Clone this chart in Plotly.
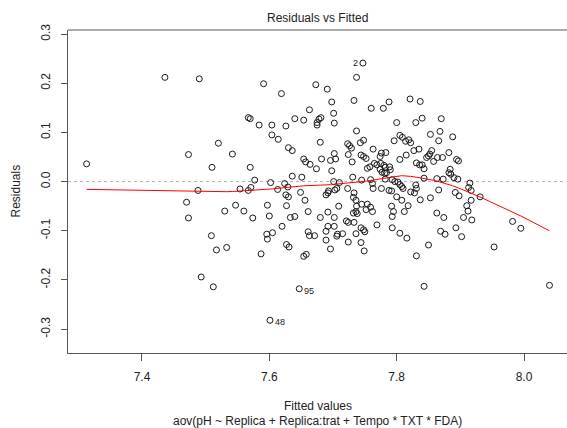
import numpy as np
import plotly.graph_objects as go

# ---- data ----
fitted = [
    7.747, 7.601, 7.647,
    7.313, 7.436, 7.473, 7.470, 7.473, 7.488, 7.490, 7.493, 7.512, 7.509,
    7.510, 7.520, 7.517, 7.533, 7.542, 7.530, 7.547, 7.560, 7.554, 7.567,
    7.570, 7.570, 7.567, 7.571, 7.574, 7.577, 7.584, 7.587, 7.591, 7.596,
    7.597, 7.605, 7.597, 7.600, 7.602, 7.604, 7.604, 7.614, 7.613, 7.619,
    7.620, 7.624, 7.626, 7.626, 7.630, 7.627, 7.627, 7.631, 7.630, 7.636,
    7.629, 7.636, 7.633, 7.640, 7.640,
    7.737, 7.673, 7.691, 7.698, 7.733, 7.760, 7.779, 7.788, 7.663, 7.701,
    7.654, 7.675, 7.678, 7.681, 7.675, 7.702, 7.737, 7.680, 7.723, 7.726,
    7.743, 7.748, 7.729, 7.763, 7.702, 7.704, 7.696, 7.682, 7.654, 7.657,
    7.664, 7.674, 7.698, 7.724, 7.730, 7.744, 7.748, 7.752, 7.765, 7.769,
    7.775, 7.780, 7.782, 7.774, 7.777, 7.781, 7.784, 7.789, 7.754, 7.758,
    7.776, 7.783, 7.774, 7.651, 7.731, 7.745, 7.701, 7.710, 7.703, 7.693,
    7.689, 7.692, 7.706, 7.723, 7.759, 7.762, 7.763, 7.733, 7.732, 7.736,
    7.776, 7.788, 7.782, 7.745, 7.752, 7.762, 7.759, 7.754, 7.737, 7.736,
    7.732, 7.738, 7.709, 7.661, 7.680, 7.692, 7.702, 7.721, 7.724, 7.733,
    7.692, 7.702, 7.689, 7.744, 7.748, 7.750, 7.769, 7.661, 7.663, 7.671,
    7.707, 7.715, 7.706, 7.736, 7.793, 7.724, 7.744, 7.689, 7.696, 7.749,
    7.654, 7.658, 7.649, 7.656,
    7.821, 7.837, 7.800, 7.830, 7.840, 7.870, 7.853, 7.868, 7.888, 7.796,
    7.805, 7.809, 7.814, 7.819, 7.822, 7.866, 7.827, 7.835, 7.855, 7.852,
    7.850, 7.847, 7.882, 7.805, 7.815, 7.858, 7.864, 7.872, 7.831, 7.836,
    7.840, 7.843, 7.894, 7.897, 7.790, 7.884, 7.882, 7.885, 7.843, 7.863,
    7.873, 7.896, 7.890, 7.915, 7.913, 7.917, 7.931, 7.793, 7.797, 7.802,
    7.808, 7.810, 7.805, 7.822, 7.828, 7.831, 7.830, 7.792, 7.866, 7.892,
    7.898, 7.837, 7.853, 7.800, 7.808, 7.818, 7.910, 7.917, 7.792, 7.795,
    7.812, 7.863, 7.874, 7.905, 7.912, 7.918, 7.805, 7.816, 7.893, 7.869,
    7.876, 7.902, 7.850, 7.831, 7.953, 7.843, 7.982, 7.995, 8.040, 7.793,
]
residuals = [
    0.241, -0.282, -0.218,
    0.036, 0.212, 0.055, -0.042, -0.074, -0.018, 0.209, -0.194, -0.214, -0.110,
    0.029, 0.078, -0.139, -0.134, 0.056, -0.060, -0.048, -0.060, -0.015, 0.130,
    0.128, 0.029, -0.018, -0.012, -0.074, 0.003, 0.115, -0.147, 0.199, -0.107,
    -0.117, -0.104, -0.048, -0.070, -0.002, 0.115, 0.095, 0.086, -0.016, 0.179,
    -0.091, -0.004, 0.113, -0.027, -0.031, -0.049, -0.128, -0.133, 0.069, 0.063,
    -0.011, 0.011, -0.073, -0.071, 0.128,
    0.212, 0.197, 0.188, 0.162, 0.165, 0.149, 0.149, 0.162, 0.146, 0.139,
    0.125, 0.120, 0.127, 0.130, 0.115, 0.119, 0.103, 0.080, 0.077, 0.073,
    0.079, 0.084, 0.068, 0.066, 0.057, 0.046, 0.043, 0.046, 0.046, 0.040,
    0.035, 0.026, 0.022, 0.055, 0.040, 0.054, 0.051, 0.047, 0.037, 0.034,
    0.037, 0.033, 0.029, 0.025, 0.019, 0.017, 0.018, 0.030, 0.027, 0.030,
    0.058, 0.059, 0.051, 0.009, 0.009, 0.003, 0.000, -0.002, -0.017, -0.019,
    -0.027, -0.023, -0.014, -0.014, 0.004, -0.004, -0.014, -0.023, -0.032, -0.038,
    -0.014, -0.018, 0.005, -0.046, -0.057, -0.061, -0.052, -0.046, -0.050, -0.061,
    -0.064, -0.065, -0.050, -0.061, -0.073, -0.062, -0.073, -0.080, -0.083, -0.083,
    -0.091, -0.091, -0.101, -0.094, -0.098, -0.102, -0.088, -0.102, -0.110, -0.110,
    -0.107, -0.106, -0.111, -0.106, -0.094, -0.123, -0.124, -0.119, -0.137, -0.141,
    -0.152, -0.148, -0.022, -0.038,
    0.168, 0.163, 0.120, 0.120, 0.129, 0.128, 0.096, 0.102, 0.091, 0.083,
    0.094, 0.090, 0.082, 0.085, 0.079, 0.083, 0.063, 0.066, 0.063, 0.056,
    0.052, 0.049, 0.059, 0.045, 0.054, 0.041, 0.049, 0.049, 0.038, 0.034,
    0.034, 0.026, 0.045, 0.042, 0.024, 0.025, 0.018, 0.015, 0.007, 0.006,
    0.005, 0.005, 0.008, -0.003, -0.012, -0.018, -0.031, 0.004, 0.000, -0.001,
    -0.010, -0.014, -0.006, -0.021, -0.023, -0.014, -0.007, -0.019, -0.017, -0.022,
    -0.029, -0.037, -0.033, -0.031, -0.038, -0.049, -0.049, -0.038, -0.050, -0.061,
    -0.061, -0.064, -0.073, -0.073, -0.060, -0.078, -0.105, -0.115, -0.094, -0.101,
    -0.107, -0.112, -0.129, -0.151, -0.133, -0.213, -0.081, -0.095, -0.211, -0.071,
]
# labelled observations: (label, index into the arrays above, side)
point_labels = ["2", "48", "95"]
point_label_idx = [0, 1, 2]
point_label_side = ["left", "right", "right"]

x_tick_vals = [7.4, 7.6, 7.8, 8.0]
x_tick_text = ["7.4", "7.6", "7.8", "8.0"]
y_tick_vals = [-0.3, -0.2, -0.1, 0.0, 0.1, 0.2, 0.3]
y_tick_text = ["-0.3", "-0.2", "-0.1", "0.0", "0.1", "0.2", "0.3"]

title_text = "Residuals vs Fitted"
x_title = "Fitted values"
sub_title = "aov(pH ~ Replica + Replica:trat + Tempo * TXT * FDA)"
y_title = "Residuals"


def lowess(x, y, f=2.0 / 3.0, it=3):
    x = np.asarray(x, float)
    y = np.asarray(y, float)
    o = np.argsort(x, kind="stable")
    xs, ys = x[o], y[o]
    n = len(xs)
    ns = max(min(int(f * n + 1e-7), n), 2)
    rw = np.ones(n)
    fit = np.zeros(n)
    rng = xs[-1] - xs[0]
    for itr in range(it + 1):
        for i in range(n):
            dist = np.abs(xs - xs[i])
            h = np.sort(dist)[ns - 1]
            h9, h1 = 0.999 * h, 0.001 * h
            w = np.where(dist <= h1, 1.0,
                         np.where(dist <= h9, (1 - (dist / h) ** 3) ** 3, 0.0)) * rw
            w = w / w.sum()
            if h > 0:
                a = np.sum(w * xs)
                b = xs[i] - a
                c = np.sum(w * (xs - a) ** 2)
                if np.sqrt(c) > 0.001 * rng:
                    b = b / c
                    w = w * (b * (xs - a) + 1)
            fit[i] = np.sum(w * ys)
        if itr == it:
            break
        res = np.abs(ys - fit)
        cmad = 6 * np.median(res)
        if cmad == 0:
            break
        r = res / cmad
        rw = np.where(r <= 0.001, 1.0, np.where(r <= 0.999, (1 - r ** 2) ** 2, 0.0))
    return xs, fit


sx, sy = lowess(fitted, residuals)

fig = go.Figure()
fig.add_trace(go.Scatter(
    x=fitted, y=residuals, mode="markers",
    marker=dict(symbol="circle-open", size=6, color="#1a1a1a", line=dict(width=1, color="#1a1a1a")),
    hoverinfo="skip", showlegend=False,
))
fig.add_trace(go.Scatter(
    x=sx, y=sy, mode="lines", line=dict(color="red", width=1),
    hoverinfo="skip", showlegend=False,
))

FONT = "Liberation Sans, Arial, sans-serif"
TXT = "#222222"
AX = "#555555"

annotations = []
for lab, idx, side in zip(point_labels, point_label_idx, point_label_side):
    annotations.append(dict(
        x=fitted[idx], y=residuals[idx], xref="x", yref="y", text=lab, showarrow=False,
        xanchor="right" if side == "left" else "left",
        xshift=-3 if side == "left" else 3, yshift=0 if side == "left" else -2,
        font=dict(family=FONT, size=9, color=TXT),
    ))
annotations += [
    dict(x=0.5, y=1, xref="paper", yref="paper", yshift=12, text=title_text, showarrow=False,
         xanchor="center", yanchor="middle", font=dict(family=FONT, size=12, color=TXT)),
    dict(x=0.5, y=0, xref="paper", yref="paper", yshift=-53, text=x_title, showarrow=False,
         xanchor="center", yanchor="middle", font=dict(family=FONT, size=12, color=TXT)),
    dict(x=0.5, y=0, xref="paper", yref="paper", yshift=-68, text=sub_title, showarrow=False,
         xanchor="center", yanchor="middle", font=dict(family=FONT, size=12, color=TXT)),
    dict(x=0, y=0.5, xref="paper", yref="paper", xshift=-53, text=y_title, showarrow=False,
         textangle=-90, xanchor="center", yanchor="middle", font=dict(family=FONT, size=12, color=TXT)),
]

fig.update_layout(
    width=567, height=428,
    margin=dict(l=68, r=0, t=30, b=75, pad=0),
    paper_bgcolor="white", plot_bgcolor="white",
    showlegend=False,
    annotations=annotations,
    shapes=[
        dict(type="line", xref="paper", yref="y", x0=0, x1=1, y0=0, y1=0,
             line=dict(color="#b0b0b0", width=1, dash="dot"), layer="below"),
        dict(type="line", xref="paper", yref="paper", x0=0, x1=1, y0=1, y1=1,
             line=dict(color=AX, width=1)),
    ],
    xaxis=dict(
        range=[7.2838, 8.0675], showgrid=False, zeroline=False,
        showline=True, linecolor=AX, linewidth=1,
        ticks="outside", ticklen=7, tickcolor=AX, tickwidth=1,
        tickvals=x_tick_vals, ticktext=x_tick_text, ticklabelstandoff=6,
        tickfont=dict(family=FONT, size=12, color=TXT),
    ),
    yaxis=dict(
        range=[-0.3486, 0.3083], showgrid=False, zeroline=False,
        showline=True, linecolor=AX, linewidth=1,
        ticks="outside", ticklen=6, tickcolor=AX, tickwidth=1,
        tickvals=y_tick_vals, ticktext=y_tick_text, tickangle=-90, ticklabelstandoff=6,
        tickfont=dict(family=FONT, size=12, color=TXT),
    ),
)

fig.write_html("out.html", config={"displayModeBar": False, "staticPlot": True})

# remove the browser's default page margin so the figure sits at the window's corner
with open("out.html", "r", encoding="utf-8") as fh:
    html = fh.read()
html = html.replace("<head>", "<head><style>html,body{margin:0;padding:0;overflow:hidden;}</style>", 1)
with open("out.html", "w", encoding="utf-8") as fh:
    fh.write(html)
